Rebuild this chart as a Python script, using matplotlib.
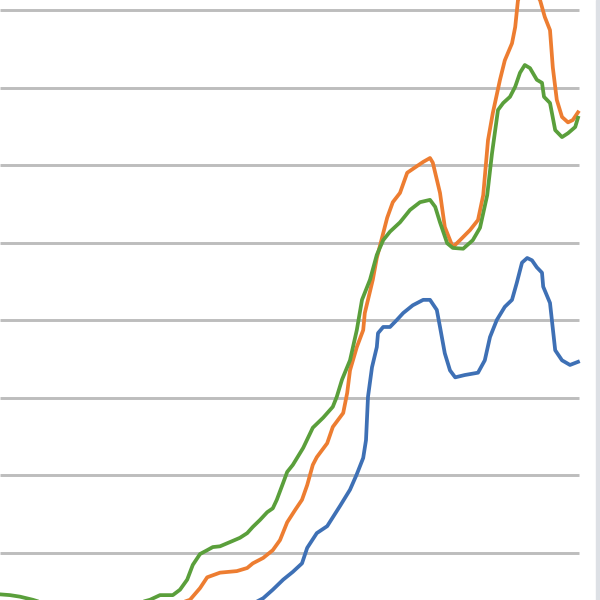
import matplotlib
matplotlib.use('Agg')
import matplotlib.pyplot as plt
from matplotlib.patches import Rectangle

# day index, value (units = gridline steps)
green_x = [0, 2.5, 5, 8.2, 12.5, 22.5, 32.5, 37.5, 40, 43.2, 45, 46.8, 48.2, 50, 51.8, 53.2, 55,
           58.2, 60, 61.8, 63.2, 65, 66.8, 68.2, 69.2, 70.8, 71.8, 73.2, 75.8, 78.2, 80.8, 83.2,
           84.2, 85.5, 87.5, 89.2, 90.5, 92.5, 94.2, 95.8, 97.5, 100, 102.5, 105, 107.5, 108.8,
           110, 111.8, 113.2, 115.8, 118.2, 120, 121.8, 123, 124.5, 125.8, 127.5, 128.8, 130,
           131.2, 132.5, 134.2, 135.5, 136, 137.5, 138.8, 140.5, 142, 143.8, 144.5]
green_y = [0.46, 0.45, 0.43, 0.39, 0.32, 0.30, 0.32, 0.39, 0.45, 0.45, 0.52, 0.65, 0.84, 0.98,
           1.03, 1.07, 1.08, 1.15, 1.19, 1.25, 1.33, 1.42, 1.52, 1.57, 1.68, 1.90, 2.04, 2.13,
           2.35, 2.61, 2.74, 2.88, 3.01, 3.23, 3.48, 3.87, 4.26, 4.52, 4.84, 5.03, 5.14, 5.26,
           5.42, 5.52, 5.55, 5.46, 5.26, 4.99, 4.93, 4.92, 5.03, 5.19, 5.61, 6.15, 6.71, 6.80,
           6.88, 7.01, 7.19, 7.29, 7.25, 7.10, 7.06, 6.88, 6.80, 6.45, 6.36, 6.41, 6.49, 6.61]

orange_x = [0, 25, 42.5, 47.5, 50, 51.8, 55, 59.2, 61.8, 63.2, 65.8, 68.2, 70, 71.8, 73.8, 75.5,
            76.8, 78.2, 79.2, 81.8, 83.2, 85.8, 86.8, 87.5, 89.2, 90.8, 91.2, 93.2, 94.2, 96.8,
            98.2, 100, 101.8, 103.8, 105.8, 107.5, 108.2, 110, 111.2, 113.2, 115, 117.5, 119.5,
            120.8, 122, 123.2, 125, 126.2, 128, 128.8, 129.5, 132, 135, 136.2, 137.5, 138.2,
            139.2, 140.5, 142, 143.2, 144.5]
orange_y = [0.25, 0.20, 0.30, 0.39, 0.54, 0.68, 0.74, 0.76, 0.80, 0.86, 0.93, 1.03, 1.16, 1.39,
            1.55, 1.68, 1.87, 2.13, 2.23, 2.41, 2.62, 2.80, 3.06, 3.35, 3.65, 3.87, 4.09, 4.52,
            4.80, 5.32, 5.52, 5.64, 5.90, 5.97, 6.04, 6.09, 6.03, 5.64, 5.20, 4.94, 5.03, 5.16,
            5.29, 5.61, 6.32, 6.67, 7.10, 7.35, 7.57, 7.78, 8.13, 8.32, 8.13, 7.91, 7.74, 7.26,
            6.84, 6.62, 6.55, 6.58, 6.68]

blue_x = [0, 37.5, 60, 65.8, 68.2, 70.8, 73.2, 75.5, 76.8, 79.2, 81.8, 85, 87.5, 89.2, 90.8,
          91.5, 92, 93, 94.2, 94.5, 95.8, 97.5, 99.2, 100.8, 103.2, 105.8, 107.5, 109.2, 110,
          111.2, 112.5, 113.8, 116.2, 119.5, 121.2, 122.5, 124.2, 126.2, 128, 129.2, 130.5,
          131.8, 133, 134.2, 135.5, 135.8, 137.5, 138.8, 140.5, 142.5, 144.5]
blue_y = [0.15, 0.10, 0.25, 0.41, 0.52, 0.65, 0.75, 0.86, 1.06, 1.25, 1.34, 1.60, 1.81, 2.01,
          2.22, 2.45, 3.01, 3.39, 3.65, 3.83, 3.91, 3.91, 4.00, 4.09, 4.19, 4.26, 4.26, 4.13,
          3.91, 3.57, 3.35, 3.26, 3.29, 3.32, 3.48, 3.78, 4.00, 4.17, 4.26, 4.48, 4.74, 4.80,
          4.77, 4.68, 4.61, 4.43, 4.22, 3.61, 3.48, 3.42, 3.46]

grid_levels = [1, 2, 3, 4, 5, 6, 7, 8]

fig = plt.figure(figsize=(6, 6), dpi=100)
ax = fig.add_axes([0, 0, 1, 1])
ax.set_xlim(0, 150)
ax.set_ylim(30 / 77.5, 630 / 77.5)
ax.axis('off')

for g in grid_levels:
    ax.plot([0, 144.7], [g, g], color='#bdbdbd', lw=2.1, solid_capstyle='butt', zorder=1)

ax.plot(blue_x, blue_y, color='#3e70b5', lw=2.7, zorder=3)
ax.plot(orange_x, orange_y, color='#ed7d31', lw=2.7, zorder=3)
ax.plot(green_x, green_y, color='#5a9f3b', lw=2.7, zorder=4)

# light panel edge on the right
fig.patches.append(Rectangle((596 / 600, 0), 4 / 600, 1, transform=fig.transFigure,
                             color='#dde0e5', zorder=0))

fig.savefig('out.png', dpi=100)
